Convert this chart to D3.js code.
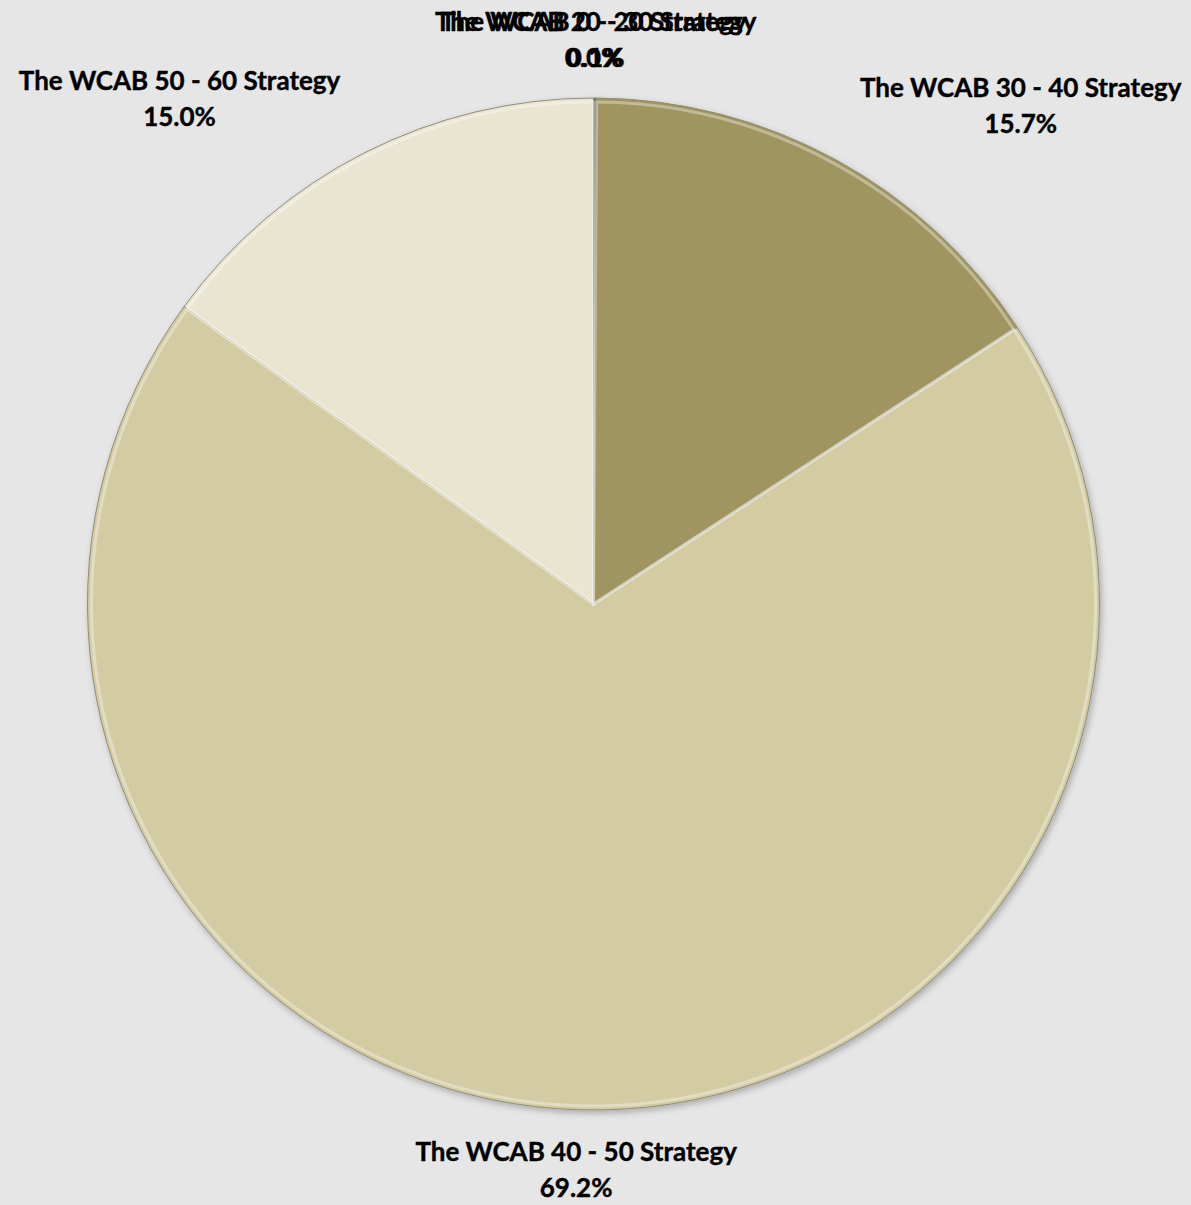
<!DOCTYPE html>
<html>
<head>
<meta charset="utf-8">
<script src="https://d3js.org/d3.v7.min.js"></script>
<style>
  body { margin: 0; background: #e6e6e6; }
  text { font-family: Lato, "Open Sans", sans-serif; font-weight: bold; }
</style>
</head>
<body>
<svg width="1191" height="1205"></svg>
<script>
var categories = ["The WCAB 0 - 20 Strategy", "The WCAB 20 - 30 Strategy", "The WCAB 30 - 40 Strategy", "The WCAB 40 - 50 Strategy", "The WCAB 50 - 60 Strategy"];
var values = [0.0, 0.1, 15.7, 69.2, 15.0];
var colors = ["#5f5d52", "#6f6c5e", "#a09560", "#d3cba2", "#e9e5d1"];

var svg = d3.select("svg"),
    width = +svg.attr("width"),
    height = +svg.attr("height"),
    radius = 506,
    g = svg.append("g").attr("transform", "translate(" + (width / 2 - 2) + "," + (height / 2 + 1.5) + ")");

svg.insert("rect", "g").attr("width", width).attr("height", height).attr("fill", "#e6e6e6");

var data = categories.map(function (c, i) { return {name: c, value: values[i], color: colors[i]}; });

var pie = d3.pie().sort(null).value(function (d) { return d.value; });
var arcs = pie(data);

var arc = d3.arc().innerRadius(0).outerRadius(radius);

var defs = svg.append("defs");
var f = defs.append("filter").attr("id", "shadow").attr("x", "-10%").attr("y", "-10%").attr("width", "120%").attr("height", "120%");
f.append("feDropShadow").attr("dx", 2).attr("dy", 3).attr("stdDeviation", 3).attr("flood-color", "#000").attr("flood-opacity", 0.25);

g.append("g").attr("filter", "url(#shadow)")
  .selectAll("path")
  .data(arcs)
  .enter()
  .append("path")
  .attr("d", arc)
  .attr("fill", function (d) { return d.data.color; })
  .attr("stroke", "#8f8b78")
  .style("stroke-width", "1px");

// inner highlight line for bevel look
var inner = d3.arc().innerRadius(0).outerRadius(radius - 4);
g.append("g").selectAll("path")
  .data(arcs.filter(function (d) { return d.value > 1; }))
  .enter()
  .append("path")
  .attr("d", inner)
  .attr("fill", "none")
  .attr("stroke", "#ffffff")
  .style("stroke-opacity", 0.35)
  .style("stroke-width", "3px");

// data labels, placed outside the pie like Excel's best-fit labels
var gap = 25;
var labels = g.selectAll(".lbl")
  .data(arcs)
  .enter()
  .append("text")
  .attr("class", "lbl")
  .attr("text-anchor", "middle")
  .style("font-size", "26px")
  .attr("fill", "#000")
  .attr("stroke", "#000")
  .style("stroke-width", "0.4px");

labels.append("tspan").attr("x", 0).attr("y", 0).text(function (d) { return d.data.name; });
labels.append("tspan").attr("x", 0).attr("y", 36).text(function (d) { return d.data.value.toFixed(1) + "%"; });

labels.attr("transform", function (d) {
  var b = this.getBBox();
  var mid = (d.startAngle + d.endAngle) / 2, s = Math.sin(mid), c = Math.cos(mid);
  var px = (radius + gap) * s, py = -(radius + gap) * c;
  var dx = Math.abs(s) > 0.3 ? Math.sign(s) * (b.width / 2 + 12) : s * b.width / 2;
  var dy = -c * b.height / 2 - (Math.abs(s) > 0.3 ? 3 : 0);
  var cx = px + dx, cy = py + dy;
  return "translate(" + cx + "," + (cy - (b.y + b.height / 2)) + ")";
});
</script>
</body>
</html>
